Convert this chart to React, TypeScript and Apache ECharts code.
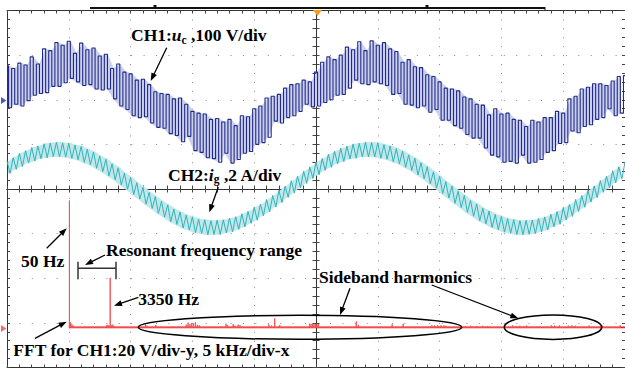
import React, { useEffect, useRef } from "react";
import * as echarts from "echarts";

// ---- Time base (screen divisions, -5 .. 5) ----
const T0_DIV = -5;
const SAMPLE_STEP_DIV = 0.1; // high samples at T0 + i*step, low samples half a step later

// ---- CH1: u_c (V), 100 V/div, trace offset +2 div ----
const CH1_V_PER_DIV = 100;
const CH1_OFFSET_DIV = 2;
const ch1High = [
  76, 70, 82, 78, 96, 80, 114, 110, 128, 122,
  131, 104, 127, 112, 116, 98, 102, 70, 80, 62,
  58, 44, 46, 34, 18, 14, 12, 2, 4, -10,
  -26, -30, -32, -44, -42, -50, -44, -58, -36, -38,
  -20, -14, 4, 8, 12, 26, 34, 36, 44, 40,
  62, 84, 96, 90, 100, 118, 112, 130, 110, 132,
  122, 128, 114, 108, 84, 90, 74, 72, 56, 52,
  40, 26, 24, 20, 6, 2, -10, -12, -34, -20,
  -32, -30, -44, -46, -60, -46, -50, -40, -40, -26,
  -30, 2, 8, 24, 28, 36, 36, 32, 42, 52,
  54,
];
const ch1Low = [
  -18, -10, -14, -2, 10, 14, 16, 30, 30, 38,
  48, 40, 32, 34, 24, 22, 24, 2, -14, -22,
  -36, -40, -38, -52, -62, -64, -76, -80, -94, -82,
  -114, -118, -130, -132, -140, -120, -142, -134, -120, -116,
  -100, -96, -84, -48, -52, -40, -36, -26, -10, -16,
  -14, -6, 0, 10, 12, 26, 44, 36, 34, 40,
  36, 32, 12, 14, -10, -12, -18, -14, -28, -22,
  -46, -46, -58, -64, -78, -86, -86, -108, -124, -128,
  -140, -138, -142, -124, -142, -140, -134, -118, -114, -98,
  -96, -70, -74, -60, -56, -44, -40, -20, -36, -30,
];

// ---- CH2: i_g (A), 2 A/div, trace offset 0 div ----
const CH2_A_PER_DIV = 2;
const CH2_OFFSET_DIV = 0;
const ch2High = [
  1.25, 1.41, 1.6, 1.72, 1.86, 1.93, 2.03, 2.06, 2.1, 2.07,
  2.05, 1.97, 1.91, 1.78, 1.66, 1.48, 1.33, 1.13, 0.95, 0.71,
  0.52, 0.28, 0.08, -0.15, -0.34, -0.55, -0.71, -0.9, -1.03, -1.17,
  -1.25, -1.35, -1.38, -1.42, -1.4, -1.38, -1.31, -1.24, -1.11, -1.0,
  -0.82, -0.68, -0.47, -0.29, -0.06, 0.13, 0.37, 0.57, 0.8, 0.99,
  1.21, 1.37, 1.56, 1.69, 1.83, 1.92, 2.02, 2.05, 2.1, 2.08,
  2.07, 1.99, 1.93, 1.81, 1.7, 1.53, 1.38, 1.18, 1.0, 0.77,
  0.57, 0.33, 0.13, -0.1, -0.29, -0.51, -0.67, -0.86, -0.99, -1.14,
  -1.23, -1.33, -1.37, -1.42, -1.4, -1.39, -1.32, -1.25, -1.13, -1.01,
  -0.84, -0.69, -0.47, -0.29, -0.06, 0.14, 0.38, 0.58, 0.82, 1.0,
  1.21,
];
const ch2Low = [
  0.7, 0.88, 1.01, 1.16, 1.25, 1.36, 1.4, 1.45, 1.44, 1.43,
  1.37, 1.31, 1.19, 1.09, 0.93, 0.78, 0.58, 0.41, 0.18, -0.01,
  -0.25, -0.45, -0.68, -0.87, -1.09, -1.26, -1.46, -1.59, -1.75, -1.84,
  -1.95, -1.99, -2.05, -2.04, -2.04, -1.97, -1.92, -1.81, -1.7, -1.54,
  -1.4, -1.2, -1.03, -0.81, -0.61, -0.38, -0.18, 0.06, 0.25, 0.47,
  0.64, 0.83, 0.97, 1.13, 1.23, 1.34, 1.38, 1.44, 1.44, 1.44,
  1.38, 1.33, 1.22, 1.13, 0.97, 0.83, 0.63, 0.46, 0.23, 0.04,
  -0.2, -0.4, -0.64, -0.83, -1.05, -1.22, -1.42, -1.56, -1.72, -1.82,
  -1.93, -1.98, -2.04, -2.05, -2.03, -2.0, -1.92, -1.84, -1.7, -1.58,
  -1.39, -1.23, -1.01, -0.82, -0.59, -0.39, -0.15, 0.05, 0.28, 0.46,
];

// ---- FFT of CH1: 20 V/div, 5 kHz/div ----
const FFT_V_PER_DIV = 20;
const FFT_HZ_PER_DIV = 5000;
const FFT_START_DIV = -4;
const FFT_OFFSET_DIV = -3.1;
const FFT_END_HZ = 50000;
const fftFreqHz = [
  50, 150, 250, 350,
  3050, 3150, 3250, 3350, 3450, 3550, 3650,
  6200, 6320, 7040,
  9500, 9650, 9800, 9950, 10100, 10250, 10400, 10550,
  12720, 12850, 13300, 13450, 13700, 13850,
  16180, 16400, 16660, 17070,
  19480, 19600, 19720, 19840, 19960, 20080, 20200,
  23260, 23430,
  26160, 27050,
  29380, 29600, 29850, 30100, 30350, 30510,
  32120, 32500, 33000, 33500, 33890,
  35900, 36200, 36500, 36800, 37030,
  39040, 39300, 39690,
  40410, 40700, 40970,
  42100, 43150, 44600,
];
const fftMagV = [
  56.8, 2.2, 1.3, 0.8,
  0.9, 1.1, 0.8, 22.2, 0.9, 1.2, 0.7,
  1.3, 0.8, 1.0,
  1.2, 2.1, 1.4, 2.0, 1.6, 2.2, 1.1, 0.9,
  1.6, 0.9, 1.4, 0.8, 1.2, 0.9,
  1.3, 0.8, 4.0, 1.0,
  1.6, 1.6, 1.6, 1.6, 1.5, 1.6, 1.4,
  2.6, 1.1,
  1.3, 1.6,
  0.9, 0.8, 1.0, 0.9, 0.8, 0.7,
  0.6, 0.7, 0.6, 0.7, 0.6,
  0.8, 0.6, 0.7, 0.6, 0.8,
  0.9, 0.8, 0.9,
  0.8, 0.9, 0.7,
  0.8, 0.8, 0.9,
];

function zigzag(hi: number[], lo: number[], perDiv: number, offset: number) {
  const pts: number[][] = [];
  for (let i = 0; i < hi.length; i++) {
    pts.push([T0_DIV + i * SAMPLE_STEP_DIV, offset + hi[i] / perDiv]);
    if (i < lo.length) {
      pts.push([T0_DIV + (i + 0.5) * SAMPLE_STEP_DIV, offset + lo[i] / perDiv]);
    }
  }
  return pts;
}

// [x, bottom, top] rows for the faint fill between ripple strokes
function band(hi: number[], lo: number[], perDiv: number, offset: number) {
  const n = Math.min(hi.length, lo.length);
  const rows: number[][] = [];
  for (let i = 0; i < n; i++) {
    rows.push([T0_DIV + (i + 0.25) * SAMPLE_STEP_DIV, offset + lo[i] / perDiv, offset + hi[i] / perDiv]);
  }
  return rows;
}

const fx = (f: number) => FFT_START_DIV + f / FFT_HZ_PER_DIV;
const fy = (v: number) => FFT_OFFSET_DIV + v / FFT_V_PER_DIV;

function fftSpikes() {
  const pts: number[][] = [];
  const n = Math.min(fftFreqHz.length, fftMagV.length);
  for (let k = 0; k < n; k++) {
    const x = fx(fftFreqHz[k]);
    pts.push([x, fy(0)], [x, fy(fftMagV[k])], [x, fy(0)]);
  }
  return pts;
}

const FONT = "'Liberation Serif','Times New Roman',serif";
const FS = 17.5;

function label(text: string, x: number, y: number, extra: any = {}) {
  return {
    type: "text",
    x,
    y,
    z: 100,
    style: {
      text,
      fill: "#000",
      fontFamily: FONT,
      fontSize: FS,
      fontWeight: "bold",
      align: "left",
      verticalAlign: "middle",
      textAlign: "left",
      textVerticalAlign: "middle",
      ...extra,
    },
  };
}

function arrow(x1: number, y1: number, x2: number, y2: number) {
  const dx = x2 - x1;
  const dy = y2 - y1;
  const L = Math.hypot(dx, dy);
  const ux = dx / L;
  const uy = dy / L;
  const hl = 8;
  const hw = 3;
  const bx = x2 - ux * hl;
  const by = y2 - uy * hl;
  return [
    {
      type: "line",
      z: 100,
      shape: { x1, y1, x2: bx + ux * 1, y2: by + uy * 1 },
      style: { stroke: "#000", lineWidth: 1.3 },
    },
    {
      type: "polygon",
      z: 100,
      shape: {
        points: [
          [x2, y2],
          [bx - uy * hw, by + ux * hw],
          [bx + uy * hw, by - ux * hw],
        ],
      },
      style: { fill: "#000" },
    },
  ];
}

function axisCommon(extra: any) {
  return {
    type: "value",
    axisLabel: { show: false },
    splitLine: { show: false },
    ...extra,
  };
}

export default function App() {
  const ref = useRef<HTMLDivElement>(null);

  useEffect(() => {
    if (!ref.current) return;
    const chart = echarts.init(ref.current, null, { renderer: "svg" });

    const tickStyle = { color: "#444", width: 1 };
    const xRange = { min: -5, max: 5 };
    const yRange = { min: -4, max: 4 };

    const xAxis = [
      axisCommon({
        ...xRange,
        interval: 1,
        axisLine: { show: false },
        axisTick: { show: false },
        splitLine: { show: true, lineStyle: { color: "#8a8a8a", width: 1, type: [1, 7.925] } },
      }),
      axisCommon({
        ...xRange,
        interval: 0.2,
        axisLine: { show: true, onZero: true, onZeroAxisIndex: 0, lineStyle: { color: "#333", width: 1 } },
        axisTick: { show: true, inside: true, length: 3.5, lineStyle: tickStyle },
      }),
      axisCommon({
        ...xRange,
        interval: 0.2,
        axisLine: { show: true, onZero: true, onZeroAxisIndex: 0, lineStyle: { color: "#333", width: 1 } },
        axisTick: { show: true, inside: false, length: 3.5, lineStyle: tickStyle },
      }),
      axisCommon({
        ...xRange,
        interval: 0.2,
        position: "top",
        axisLine: { show: true, onZero: false, lineStyle: { color: "#333", width: 1 } },
        axisTick: { show: true, inside: true, length: 3, lineStyle: tickStyle },
      }),
      axisCommon({
        ...xRange,
        interval: 0.2,
        position: "bottom",
        axisLine: { show: true, onZero: false, lineStyle: { color: "#333", width: 1 } },
        axisTick: { show: true, inside: true, length: 3, lineStyle: tickStyle },
      }),
    ];

    const yAxis = [
      axisCommon({
        ...yRange,
        interval: 1,
        axisLine: { show: false },
        axisTick: { show: false },
        splitLine: { show: true, lineStyle: { color: "#8a8a8a", width: 1, type: [1, 11.42] } },
      }),
      axisCommon({
        ...yRange,
        interval: 0.2,
        axisLine: { show: true, onZero: true, onZeroAxisIndex: 0, lineStyle: { color: "#333", width: 1 } },
        axisTick: { show: true, inside: true, length: 3.5, lineStyle: tickStyle },
      }),
      axisCommon({
        ...yRange,
        interval: 0.2,
        axisLine: { show: true, onZero: true, onZeroAxisIndex: 0, lineStyle: { color: "#333", width: 1 } },
        axisTick: { show: true, inside: false, length: 3.5, lineStyle: tickStyle },
      }),
      axisCommon({
        ...yRange,
        interval: 0.2,
        position: "left",
        axisLine: { show: true, onZero: false, lineStyle: { color: "#333", width: 1 } },
        axisTick: { show: true, inside: true, length: 3, lineStyle: tickStyle },
      }),
      axisCommon({
        ...yRange,
        interval: 0.2,
        position: "right",
        axisLine: { show: true, onZero: false, lineStyle: { color: "#333", width: 1 } },
        axisTick: { show: true, inside: true, length: 3, lineStyle: tickStyle },
      }),
    ];

    const lineSeries = (data: number[][], color: string, width: number, z: number, extra: any = {}) => ({
      type: "line",
      data,
      xAxisIndex: 0,
      yAxisIndex: 0,
      symbol: "none",
      showSymbol: false,
      silent: true,
      z,
      lineStyle: { color, width },
      ...extra,
    });

    const bandSeries = (rows: number[][], fill: string, z: number) => ({
      type: "custom",
      xAxisIndex: 0,
      yAxisIndex: 0,
      silent: true,
      z,
      clip: true,
      data: rows,
      encode: { x: 0, y: [1, 2] },
      renderItem: (params: any, api: any) => {
        const i = params.dataIndex;
        if (i >= rows.length - 1) return { type: "group", children: [] };
        const a = rows[i];
        const b = rows[i + 1];
        const pts = [
          api.coord([a[0], a[2]]),
          api.coord([b[0], b[2]]),
          api.coord([b[0], b[1]]),
          api.coord([a[0], a[1]]),
        ];
        return {
          type: "polygon",
          shape: { points: pts },
          style: { fill, stroke: fill, lineWidth: 0.6 },
        };
      },
    });

    const graphics: any[] = [
      // scope status bar on top
      { type: "line", z: 100, shape: { x1: 90, y1: 8, x2: 545, y2: 8 }, style: { stroke: "#111", lineWidth: 2 } },
      { type: "line", z: 100, shape: { x1: 545, y1: 7, x2: 545, y2: 10 }, style: { stroke: "#111", lineWidth: 1 } },
      { type: "rect", z: 100, shape: { x: 153.5, y: 5, width: 3, height: 3 }, style: { fill: "#111" } },
      { type: "rect", z: 100, shape: { x: 425.5, y: 5, width: 3, height: 3 }, style: { fill: "#111" } },
      // trigger marker
      { type: "polygon", z: 101, shape: { points: [[313, 10], [322, 10], [317.5, 16]] }, style: { fill: "#f5a01a" } },
      // channel markers
      { type: "polygon", z: 101, shape: { points: [[1, 97], [1, 104], [6.5, 100.5]] }, style: { fill: "#4f5bb0" } },
      { type: "polygon", z: 101, shape: { points: [[1, 325], [1, 332], [6.5, 328.5]] }, style: { fill: "#f07070" } },

      // CH1 label
      label("CH1:", 131, 35),
      label("u", 171.8, 35, { fontStyle: "italic" }),
      label("c", 181.6, 40, { fontSize: 11.5 }),
      label(" ,100 V/div", 186.6, 35),
      ...arrow(166.7, 47.7, 150.7, 81),

      // CH2 label
      label("CH2:", 168, 175),
      label("i", 208.8, 175, { fontStyle: "italic" }),
      label("g", 213.8, 179, { fontSize: 11.5 }),
      label(" ,2 A/div", 219.5, 175),
      ...arrow(218.3, 187, 209.3, 212.3),

      // FFT annotations
      label("50 Hz", 21, 260.5),
      ...arrow(46.7, 248.3, 66.7, 228.3),
      label("Resonant frequency range", 106, 250),
      ...arrow(105, 255, 85, 265),
      { type: "line", z: 100, shape: { x1: 78, y1: 268.3, x2: 116, y2: 268.3 }, style: { stroke: "#333", lineWidth: 1.5 } },
      { type: "line", z: 100, shape: { x1: 78, y1: 261.7, x2: 78, y2: 279.3 }, style: { stroke: "#333", lineWidth: 1.5 } },
      { type: "line", z: 100, shape: { x1: 116, y1: 261.7, x2: 116, y2: 279.3 }, style: { stroke: "#333", lineWidth: 1.5 } },
      label("3350 Hz", 138.3, 298.5),
      ...arrow(138.3, 297.3, 114, 305.7),
      label("FFT for CH1:20 V/div-y, 5 kHz/div-x", 13.3, 349.5),
      ...arrow(35, 338.3, 66.7, 321.7),

      // sideband harmonics
      {
        type: "ellipse",
        z: 100,
        shape: { cx: 300, cy: 327.3, rx: 161.7, ry: 12 },
        style: { fill: "transparent", stroke: "#000", lineWidth: 1.5 },
      },
      {
        type: "ellipse",
        z: 100,
        shape: { cx: 553, cy: 327.2, rx: 48.7, ry: 12.2 },
        style: { fill: "transparent", stroke: "#000", lineWidth: 1.5 },
      },
      label("Sideband harmonics", 319, 276.5),
      ...arrow(350, 288.3, 340, 315),
      ...arrow(431.7, 285, 518.3, 318.3),
    ];

    chart.setOption({
      animation: false,
      backgroundColor: "#ffffff",
      grid: { left: 7, top: 10.5, width: 621, height: 357, show: false },
      xAxis,
      yAxis,
      series: [
        lineSeries([[fx(0), fy(0)], [fx(FFT_END_HZ), fy(0)]], "#ee1c1c", 1.8, 4),
        lineSeries(fftSpikes(), "#f25656", 1, 5),
        bandSeries(band(ch1High, ch1Low, CH1_V_PER_DIV, CH1_OFFSET_DIV), "#cdd0ec", 5),
        lineSeries(zigzag(ch1High, ch1Low, CH1_V_PER_DIV, CH1_OFFSET_DIV), "#1f2b8c", 1.1, 6, { step: "middle" }),
        bandSeries(band(ch2High, ch2Low, CH2_A_PER_DIV, CH2_OFFSET_DIV), "#c2e8ea", 6),
        lineSeries(zigzag(ch2High, ch2Low, CH2_A_PER_DIV, CH2_OFFSET_DIV), "#33b3bc", 1, 7),
      ],
      graphic: { elements: graphics },
    });

    return () => {
      chart.dispose();
    };
  }, []);

  return (
    <div
      ref={ref}
      style={{ position: "fixed", left: 0, top: 0, width: 625, height: 369, background: "#fff" }}
    />
  );
}
